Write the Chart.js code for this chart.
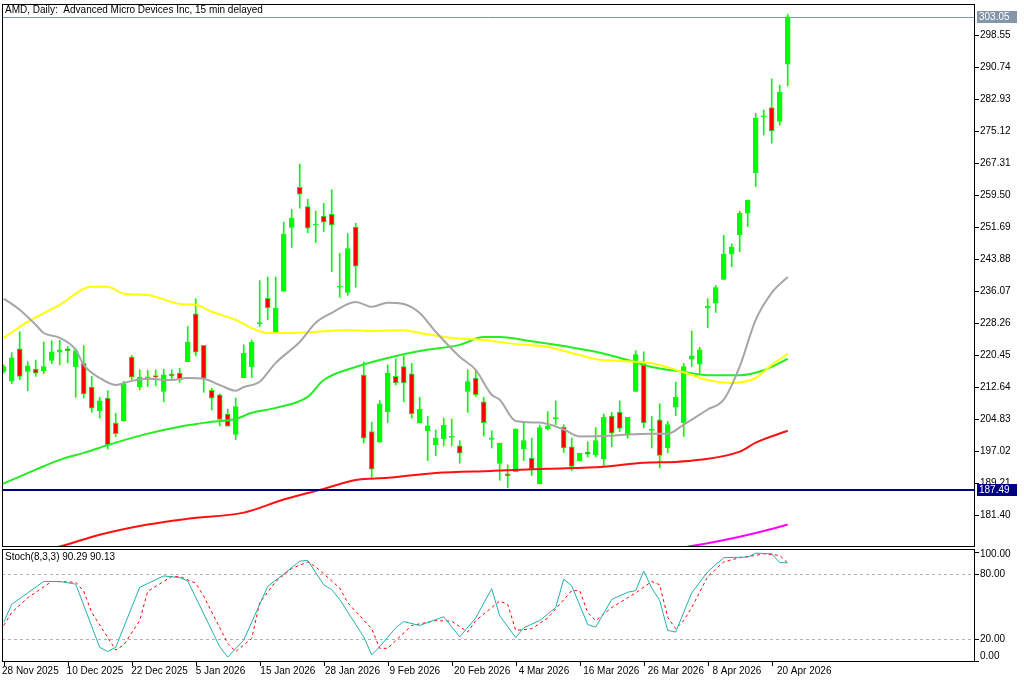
<!DOCTYPE html>
<html>
<head>
<meta charset="utf-8">
<script src="https://cdn.jsdelivr.net/npm/chart.js@4.4.1/dist/chart.umd.min.js"></script>
<style>
  body { margin: 0; background: #fff; width: 1024px; height: 683px; overflow: hidden; }
  .pane { position: absolute; left: 0; width: 1024px; }
  #mainPane { top: 0; height: 548px; }
  #stochPane { top: 548px; height: 135px; }
</style>
</head>
<body>
<div class="pane" id="mainPane"><canvas id="mainChart"></canvas></div>
<div class="pane" id="stochPane"><canvas id="stochChart"></canvas></div>
<script>
/* ---------- Data ---------- */
const opens  = [216.4,214.0,221.9,216.4,217.0,216.6,219.1,221.1,221.9,217.6,218.4,212.6,206.8,209.9,203.8,204.4,219.9,212.7,214.8,215.4,
                211.5,215.7,216.0,218.8,230.5,222.8,211.8,210.7,206.0,201.0,214.9,217.6,228.1,234.3,225.8,236.0,251.6,261.4,256.7,252.2,
                254.4,254.8,237.0,235.7,251.7,215.5,201.7,199.1,206.6,215.2,217.6,215.8,203.8,201.9,198.5,200.0,200.3,198.2,211.5,214.8,
                209.0,199.8,193.9,191.4,191.9,197.5,195.2,188.9,202.4,204.8,202.8,198.0,194.6,196.7,196.0,195.0,205.5,206.5,201.2,211.5,
                218.3,202.0,204.6,197.8,207.7,203.9,219.4,218.2,231.9,233.1,238.9,245.1,249.8,255.1,265.0,278.6,280.9,277.5,291.5];
const highs  = [218.0,221.0,226.1,218.8,219.2,223.6,223.9,224.0,222.5,222.0,222.7,215.2,210.1,211.7,206.2,214.0,220.3,216.8,216.7,216.8,
                217.0,216.8,217.2,227.4,234.2,222.8,212.3,210.9,207.2,209.9,222.9,224.1,238.6,239.5,239.5,252.9,256.0,267.1,258.5,255.6,
                257.5,260.8,245.3,250.1,252.6,218.7,204.0,209.3,218.0,219.5,220.2,218.4,210.1,205.4,202.1,205.0,204.8,199.5,216.8,216.8,
                210.1,201.9,198.9,193.6,202.4,203.8,200.1,203.3,206.6,209.2,203.4,200.1,196.4,199.2,202.7,206.0,206.4,209.2,205.2,221.5,
                221.2,205.4,208.5,204.2,213.8,218.4,226.3,222.3,234.2,237.4,249.7,247.6,255.6,258.3,279.5,280.3,287.9,286.4,303.7];
const lows   = [216.0,213.4,214.4,211.7,215.2,215.9,218.3,218.0,218.5,210.1,209.9,206.4,205.0,197.4,200.5,204.2,214.3,211.9,212.7,212.9,
                209.0,214.3,213.7,218.8,220.2,211.3,207.0,203.1,203.0,199.7,214.9,214.9,227.4,229.0,225.8,236.0,246.7,256.3,250.3,247.9,
                250.6,240.8,234.5,235.0,237.0,198.9,190.5,199.1,203.9,213.1,209.0,205.0,203.8,194.6,195.8,198.2,198.2,194.0,206.4,210.3,
                200.6,197.7,189.8,188.0,191.9,194.6,191.0,188.9,202.1,203.4,196.6,192.2,194.6,195.5,195.5,193.2,198.0,201.7,200.1,211.5,
                202.6,197.7,192.8,196.5,205.6,200.5,217.6,215.6,227.1,230.8,238.9,242.0,245.7,251.8,261.6,274.2,272.2,276.6,286.2];
const closes = [217.5,219.7,215.2,217.8,216.0,217.6,221.2,221.7,221.4,221.5,210.9,207.4,209.2,198.5,201.2,213.3,215.0,215.0,215.1,215.0,
                215.6,215.4,214.4,223.6,221.1,214.7,209.9,204.7,203.0,207.8,220.9,223.6,228.3,231.9,231.9,250.0,253.9,259.7,251.4,252.2,
                252.9,252.2,237.1,246.4,242.1,200.1,192.5,208.5,216.0,213.6,213.6,206.0,207.2,203.1,200.1,203.3,200.3,196.4,213.9,210.7,
                203.9,200.2,198.9,190.9,202.3,199.5,192.5,202.7,203.1,205.1,197.7,193.2,196.4,196.2,199.5,205.2,201.3,202.5,205.2,220.5,
                203.8,202.2,195.9,203.4,210.1,217.6,220.2,221.7,232.4,236.9,245.1,246.8,255.1,258.3,278.3,278.7,275.2,284.7,303.05];

// moving averages, read as [bar index, value]
const maGray    = [[0,234.2],[2,231.5],[4,227.8],[5,225.8],[7,224.6],[9,221.7],[10,218.0],[12,214.8],[14,213.1],[16,214.1],[18,214.6],
                   [21,214.3],[23,214.8],[25,214.6],[27,213.1],[29,211.7],[30,212.6],[32,213.9],[34,218.5],[37,223.6],[39,228.3],[41,230.7],
                   [44,233.4],[46,232.2],[48,233.2],[50,232.9],[52,230.7],[54,226.1],[57,220.0],[59,216.8],[61,210.7],[62,209.5],[64,204.3],
                   [67,203.9],[70,202.2],[72,200.5],[76,200.7],[78,201.0],[81,201.2],[83,201.2],[85,203.4],[88,207.1],[90,209.5],[92,217.6],
                   [94,229.0],[96,235.6],[98,239.5]];
const maYellow  = [[0,224.6],[3,228.5],[7,232.7],[11,237.1],[13,237.1],[15,235.4],[18,235.1],[22,232.9],[24,232.7],[26,231.0],[29,229.0],
                   [31,227.0],[33,225.8],[36,225.8],[43,226.5],[46,226.3],[50,226.5],[52,225.8],[56,224.6],[60,224.1],[64,223.1],[68,222.4],
                   [72,220.4],[74,219.4],[78,218.9],[81,218.4],[85,216.2],[88,214.3],[91,213.6],[94,214.8],[96,218.0],[98,220.7]];
const maGreen   = [[-1,188.2],[4,192.4],[7,194.8],[10,196.5],[14,199.0],[18,201.2],[22,202.9],[26,204.1],[29,204.8],[31,206.3],[34,207.5],
                   [38,210.2],[40,214.3],[44,217.5],[48,219.7],[52,221.4],[57,222.9],[60,224.8],[62,224.8],[66,223.8],[70,222.6],[74,221.2],
                   [78,219.2],[81,217.5],[85,216.3],[88,215.5],[92,215.5],[95,216.7],[98,219.5]];
const maRed     = [[5,172.8],[7,173.6],[12,176.5],[18,179.0],[23,180.4],[30,181.9],[35,185.1],[40,187.7],[44,189.9],[48,190.4],[54,191.6],
                   [61,192.1],[68,192.6],[75,193.1],[80,194.1],[84,194.3],[87,194.8],[92,196.8],[94,199.0],[98,201.9]];
const maMagenta = [[84,173.1],[88,174.4],[92,176.0],[95,177.4],[98,179.0]];

// stochastic (8,3,3)
const stochMain   = [[0,35.6],[1,52.1],[3,62.6],[5,73.1],[7,73.1],[9,70.7],[12,12.5],[13,8.6],[14,12.5],[17,67.7],[20,78.2],[22,76.7],
                     [23,73.7],[27,13.1],[28,3.5],[30,19.1],[33,68.6],[35,80.0],[37,91.7],[38,92.6],[40,70.1],[41,65.6],[42,56.6],[45,22.1],
                     [46,5.6],[47,13.1],[49,30.5],[50,36.2],[52,32.6],[55,40.7],[57,22.1],[59,39.5],[61,66.5],[62,41.6],[64,21.5],[65,30.5],
                     [67,37.1],[69,49.1],[70,75.2],[71,69.2],[73,33.5],[74,31.1],[76,56.6],[78,63.2],[79,64.7],[80,82.7],[81,67.1],[82,55.7],
                     [83,28.1],[84,26.6],[86,62.6],[88,82.1],[90,95.0],[93,95.6],[94,99.2],[96,98.6],[97,90.5],[98,90.3]];
const stochSignal = [[0,32.6],[1,44.6],[3,58.1],[6,73.1],[9,72.5],[10,64.1],[11,44.6],[14,10.1],[15,14.6],[17,37.1],[18,64.1],[21,77.6],
                     [22,77.6],[24,71.6],[25,59.6],[28,16.1],[29,8.6],[31,20.6],[32,53.6],[34,73.1],[36,85.1],[38,91.1],[39,86.6],[42,67.1],
                     [43,53.6],[46,29.6],[47,11.6],[48,11.6],[51,32.6],[54,37.1],[56,36.5],[58,26.6],[59,37.1],[62,55.1],[63,52.1],[64,28.1],
                     [66,29.6],[68,39.5],[71,64.7],[72,64.7],[73,44.6],[74,37.1],[76,49.1],[79,62.6],[81,73.1],[82,70.1],[83,40.1],[84,29.6],
                     [85,37.1],[86,49.1],[88,77.6],[90,91.1],[92,95.0],[94,97.1],[95,98.6],[97,97.1],[98,90.1]];

const priceTicks = [298.55,290.74,282.93,275.12,267.31,259.50,251.69,243.88,236.07,228.26,220.45,212.64,204.83,197.02,189.21,181.40];
const stochTicks = [100, 80, 20, 0];
const dateLabels = ['28 Nov 2025','10 Dec 2025','22 Dec 2025','5 Jan 2026','15 Jan 2026','28 Jan 2026','9 Feb 2026',
                    '20 Feb 2026','4 Mar 2026','16 Mar 2026','26 Mar 2026','8 Apr 2026','20 Apr 2026'];
const dateIdx    = [0, 8, 16, 24, 32, 40, 48, 56, 64, 72, 80, 88, 96];
const lastPrice  = 303.05;
const supportLvl = 187.49;

/* ---------- Shared ---------- */
const FONT = 'Liberation Sans, Arial, sans-serif';
const X_MIN = -0.2125, X_MAX = X_MIN + 973 / 8;
Chart.defaults.font.family = FONT;
Chart.defaults.animation = false;

const toXY = arr => arr.map(p => ({ x: p[0], y: p[1] }));
const fixWidth = s => { s.width = 49; };

const framePlugin = {
  id: 'frame',
  afterDraw(chart) {
    const { ctx, chartArea: a } = chart;
    ctx.save();
    ctx.strokeStyle = '#000';
    ctx.lineWidth = 1;
    ctx.strokeRect(a.left + 0.5, a.top + 0.5, a.right - a.left - 1, a.bottom - a.top - 1);
    ctx.restore();
  }
};

// right-hand scale labels with short tick dashes
function drawScale(ctx, a, y, ticks, clamp) {
  ctx.fillStyle = '#000'; ctx.strokeStyle = '#000'; ctx.lineWidth = 1;
  ctx.font = '10px ' + FONT;
  ctx.textBaseline = 'middle';
  ticks.forEach(v => {
    const p = Math.round(y.getPixelForValue(v));
    const ly = clamp ? Math.min(Math.max(p, a.top + 5), a.bottom - 6) : p;
    ctx.beginPath(); ctx.moveTo(a.right, p + 0.5); ctx.lineTo(a.right + 4, p + 0.5); ctx.stroke();
    ctx.fillText(v.toFixed(2), a.right + 5, ly + 0.5);
  });
}

function maLine(data, color) {
  return {
    type: 'line', data: toXY(data), borderColor: color, borderWidth: 2,
    pointRadius: 0, cubicInterpolationMode: 'monotone', order: 1
  };
}

/* ---------- Main price chart ---------- */
const idx = closes.map((_, i) => i);
const bull = idx.map(i => closes[i] >= opens[i]);

const pricePlugin = {
  id: 'priceLines',
  beforeDatasetsDraw(chart) {
    const { ctx, chartArea: a, scales: { y } } = chart;
    ctx.save();
    let py = Math.round(y.getPixelForValue(lastPrice)) + 0.5;
    ctx.strokeStyle = '#8496a8'; ctx.lineWidth = 1;
    ctx.beginPath(); ctx.moveTo(a.left, py); ctx.lineTo(a.right, py); ctx.stroke();
    ctx.restore();
  },
  afterDraw(chart) {
    const { ctx, chartArea: a, scales: { y } } = chart;
    ctx.save();
    drawScale(ctx, a, y, priceTicks, false);
    const sy = Math.round(y.getPixelForValue(supportLvl));
    ctx.strokeStyle = '#000080'; ctx.lineWidth = 2;
    ctx.beginPath(); ctx.moveTo(a.left, sy); ctx.lineTo(a.right, sy); ctx.stroke();
    // boxes on the axis
    const box = (v, bg) => {
      const p = Math.round(y.getPixelForValue(v));
      ctx.fillStyle = bg;
      ctx.fillRect(a.right + 2, p - 6, 40, 12);
      ctx.fillStyle = '#fff';
      ctx.font = '10px ' + FONT;
      ctx.textBaseline = 'middle';
      ctx.fillText(v.toFixed(2), a.right + 4, p + 0.5);
    };
    box(lastPrice, '#8496a8');
    box(supportLvl, '#000080');
    // title
    ctx.fillStyle = '#000';
    ctx.font = '10px ' + FONT;
    ctx.textBaseline = 'middle';
    ctx.fillText('AMD, Daily:  Advanced Micro Devices Inc, 15 min delayed', a.left + 3, a.top + 6);
    ctx.restore();
  }
};

new Chart(document.getElementById('mainChart'), {
  type: 'bar',
  data: {
    datasets: [
      maLine(maGray, '#a6a6a6'),
      maLine(maYellow, '#ffff00'),
      maLine(maGreen, '#22ee22'),
      maLine(maRed, '#ff1010'),
      maLine(maMagenta, '#ff00ff'),
      {
        label: 'body', order: 2, grouped: false,
        data: idx.map(i => ({ x: i, y: [opens[i], closes[i]] })),
        backgroundColor: idx.map(i => bull[i] ? '#00ff00' : '#ff0000'),
        borderColor: '#00ff00', borderWidth: 1, borderSkipped: false,
        barThickness: 5, minBarLength: 1
      },
      {
        label: 'wick', order: 3, grouped: false,
        data: idx.map(i => ({ x: i, y: [lows[i], highs[i]] })),
        backgroundColor: '#00ff00', barThickness: 1, borderWidth: 0
      }
    ]
  },
  options: {
    responsive: true, maintainAspectRatio: false, devicePixelRatio: 1,
    layout: { padding: { left: 2, top: 4, right: 0, bottom: 1 } },
    plugins: { legend: { display: false }, tooltip: { enabled: false } },
    scales: {
      x: { type: 'linear', min: X_MIN, max: X_MAX, display: false, offset: false },
      y: {
        position: 'right', min: 173.5, max: 306.2,
        afterFit: fixWidth,
        ticks: { display: false }, grid: { display: false }, border: { display: false }
      }
    }
  },
  plugins: [framePlugin, pricePlugin]
});

/* ---------- Stochastic pane ---------- */
const stochPlugin = {
  id: 'stochExtras',
  beforeDatasetsDraw(chart) {
    const { ctx, chartArea: a, scales: { y } } = chart;
    ctx.save();
    ctx.strokeStyle = '#b0b0b0'; ctx.lineWidth = 1; ctx.setLineDash([3, 3]);
    [80, 20].forEach(v => {
      const p = Math.round(y.getPixelForValue(v)) + 0.5;
      ctx.beginPath(); ctx.moveTo(a.left, p); ctx.lineTo(a.right, p); ctx.stroke();
    });
    ctx.restore();
  },
  afterDraw(chart) {
    const { ctx, chartArea: a, scales: { x, y } } = chart;
    ctx.save();
    ctx.fillStyle = '#000';
    ctx.font = '10px ' + FONT;
    ctx.textBaseline = 'middle';
    ctx.fillText('Stoch(8,3,3) 90.29 90.13', a.left + 3, a.top + 8);
    drawScale(ctx, a, y, stochTicks, true);
    // date labels
    ctx.textBaseline = 'top';
    dateIdx.forEach((d, k) => {
      const p = x.getPixelForValue(d);
      ctx.beginPath(); ctx.moveTo(Math.round(p) + 0.5, a.bottom); ctx.lineTo(Math.round(p) + 0.5, a.bottom + 4); ctx.stroke();
      ctx.fillText(dateLabels[k], p - 1.7 + 0.58 * k, a.bottom + 4);
    });
    ctx.restore();
  }
};

new Chart(document.getElementById('stochChart'), {
  type: 'line',
  data: {
    datasets: [
      { data: toXY(stochMain), borderColor: '#20b2aa', borderWidth: 1, pointRadius: 0 },
      { data: toXY(stochSignal), borderColor: '#ff0000', borderWidth: 1, borderDash: [3, 3], pointRadius: 0 }
    ]
  },
  options: {
    responsive: true, maintainAspectRatio: false, devicePixelRatio: 1,
    layout: { padding: { left: 2, top: 1, right: 0, bottom: 21 } },
    plugins: { legend: { display: false }, tooltip: { enabled: false } },
    scales: {
      x: { type: 'linear', min: X_MIN, max: X_MAX, display: false },
      y: {
        position: 'right', min: -1, max: 103, afterFit: fixWidth,
        ticks: { display: false }, grid: { display: false }, border: { display: false }
      }
    }
  },
  plugins: [framePlugin, stochPlugin]
});
</script>
</body>
</html>
